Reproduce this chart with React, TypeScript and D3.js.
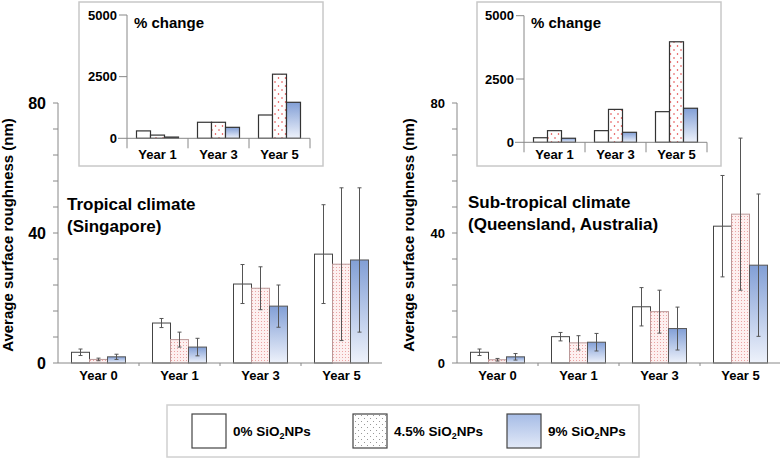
import React from "react";
import * as d3 from "d3";

const years = ["Year 0", "Year 1", "Year 3", "Year 5"];
const insetYears = ["Year 1", "Year 3", "Year 5"];
const seriesKeys = ["0%", "4.5%", "9%"];

// Tropical climate (Singapore): mean roughness (nm) and error
const tropical0 = [3.3, 12.3, 24.3, 33.5];
const tropical45 = [1.1, 7.2, 23.0, 30.4];
const tropical9 = [1.9, 4.9, 17.5, 31.7];
const tropicalErr0 = [1.0, 1.4, 6.0, 15.2];
const tropicalErr45 = [0.4, 2.3, 6.6, 23.5];
const tropicalErr9 = [0.8, 2.7, 6.5, 22.2];

// Sub-tropical climate (Queensland)
const subtrop0 = [3.3, 8.1, 17.3, 42.1];
const subtrop45 = [1.0, 6.2, 15.8, 45.8];
const subtrop9 = [1.9, 6.4, 10.6, 30.1];
const subtropErr0 = [1.0, 1.3, 5.9, 15.6];
const subtropErr45 = [0.4, 2.2, 6.6, 23.4];
const subtropErr9 = [1.0, 2.7, 6.6, 21.9];

// % change insets
const tropicalChange0 = [300, 650, 945];
const tropicalChange45 = [130, 650, 2600];
const tropicalChange9 = [50, 445, 1460];
const subtropChange0 = [180, 460, 1210];
const subtropChange45 = [460, 1300, 3970];
const subtropChange9 = [160, 395, 1345];

const font = "'Liberation Sans', Arial, Helvetica, sans-serif";
const axisColor = "#888";
const mainFills = ["#ffffff", "url(#pinkDots)", "url(#blueGrad)"];
const mainStrokes = ["#444", "#b99", "#555"];
const insetFills = ["#ffffff", "url(#redDots)", "url(#blueGrad)"];

function MainPanel({ left, right, means, errs, tickSize, title, titleX, titleY, axisTitleX }) {
  const x = d3.scaleBand().domain(years).range([left, right]);
  const inner = d3.scaleBand().domain(seriesKeys).range([0, 54]);
  const y = d3.scaleLinear().domain([0, 80]).range([363, 103]);
  const pad = (x.bandwidth() - 54) / 2;

  return (
    <g>
      {/* y axis */}
      <line x1={left} x2={left} y1={y(80)} y2={y(0)} stroke={axisColor} />
      {d3.range(0, 81, 8).map((t) => (
        <line key={t} x1={left - 5} x2={left} y1={y(t)} y2={y(t)} stroke={axisColor} />
      ))}
      {[0, 40, 80].map((t) => (
        <text key={t} x={left - 12} y={y(t)} textAnchor="end" dominantBaseline="central"
          fontSize={tickSize} fontWeight="bold">{t}</text>
      ))}
      <text transform={`translate(${axisTitleX},235) rotate(-90)`} textAnchor="middle"
        fontSize={15} fontWeight="bold">Average surface roughness (nm)</text>

      {/* bars */}
      {years.map((yr, i) =>
        seriesKeys.map((s, j) => {
          const bx = x(yr)! + pad + inner(s)!;
          const m = means[j][i];
          return (
            <rect key={yr + s} x={bx} y={y(m)} width={inner.bandwidth()} height={y(0) - y(m)}
              fill={mainFills[j]} stroke={mainStrokes[j]} strokeWidth={1} />
          );
        })
      )}
      {/* error bars */}
      {years.map((yr, i) =>
        seriesKeys.map((s, j) => {
          const cx = x(yr)! + pad + inner(s)! + inner.bandwidth() / 2;
          const m = means[j][i];
          const e = errs[j][i];
          const y1 = y(m + e);
          const y2 = y(Math.max(0, m - e));
          return (
            <g key={"e" + yr + s} stroke="#555" strokeWidth={1}>
              <line x1={cx} x2={cx} y1={y1} y2={y2} />
              <line x1={cx - 2} x2={cx + 2} y1={y1} y2={y1} />
              <line x1={cx - 2} x2={cx + 2} y1={y2} y2={y2} />
            </g>
          );
        })
      )}

      {/* x axis */}
      <line x1={left} x2={right} y1={y(0)} y2={y(0)} stroke={axisColor} />
      {years.slice(1).map((yr) => (
        <line key={yr} x1={x(yr)} x2={x(yr)} y1={y(0)} y2={y(0) + 3} stroke={axisColor} />
      ))}
      {years.map((yr) => (
        <text key={yr} x={x(yr)! + x.bandwidth() / 2} y={380} textAnchor="middle"
          fontSize={13} fontWeight="bold">{yr}</text>
      ))}

      {title.map((t, k) => (
        <text key={t} x={titleX} y={titleY + k * 21.5} fontSize={17} fontWeight="bold">{t}</text>
      ))}
    </g>
  );
}

function Inset({ boxX, axisX, axisEnd, zeroY, topY, changes }) {
  const x = d3.scaleBand().domain(insetYears).range([axisX, axisEnd]);
  const inner = d3.scaleBand().domain(seriesKeys).range([0, 42]);
  const y = d3.scaleLinear().domain([0, 5000]).range([zeroY, topY]);
  const pad = (x.bandwidth() - 42) / 2;

  return (
    <g>
      <rect x={boxX} y={2} width={244} height={164} fill="#fff" stroke="#c8c8c8" strokeWidth={1.5} />
      {insetYears.map((yr, i) =>
        seriesKeys.map((s, j) => {
          const v = changes[j][i];
          return (
            <rect key={yr + s} x={x(yr)! + pad + inner(s)!} y={y(v)} width={inner.bandwidth()}
              height={y(0) - y(v)} fill={insetFills[j]} stroke="#333" strokeWidth={1.2} />
          );
        })
      )}
      <line x1={axisX} x2={axisX} y1={y(5000)} y2={zeroY + 10} stroke={axisColor} />
      <line x1={axisX - 9} x2={axisEnd} y1={zeroY} y2={zeroY} stroke={axisColor} />
      {[2500, 5000].map((t) => (
        <line key={t} x1={axisX - 8} x2={axisX} y1={y(t)} y2={y(t)} stroke={axisColor} />
      ))}
      {[0, 2500, 5000].map((t) => (
        <text key={t} x={axisX - 10} y={y(t)} textAnchor="end" dominantBaseline="central"
          fontSize={13} fontWeight="bold">{t}</text>
      ))}
      {insetYears.map((yr) => (
        <line key={yr} x1={x(yr)! + x.bandwidth()} x2={x(yr)! + x.bandwidth()} y1={zeroY}
          y2={zeroY + 10} stroke={axisColor} />
      ))}
      {insetYears.map((yr) => (
        <text key={"l" + yr} x={x(yr)! + x.bandwidth() / 2} y={159} textAnchor="middle"
          fontSize={13} fontWeight="bold">{yr}</text>
      ))}
      <text x={axisX + 7} y={28} fontSize={15} fontWeight="bold">% change</text>
    </g>
  );
}

function LegendLabel({ x, pct }) {
  return (
    <text x={x} y={436} fontSize={13.5} fontWeight="bold">
      <tspan>{pct} SiO</tspan>
      <tspan fontSize={9} dy={3}>2</tspan>
      <tspan dy={-3}>NPs</tspan>
    </text>
  );
}

export default function App() {
  const legendX = [192, 353, 507];
  const legendFills = ["#ffffff", "url(#grayDots)", "url(#legendBlue)"];
  return (
    <svg width={780} height={458} style={{ position: "absolute", left: 0, top: 0, background: "#fff" }}
      fontFamily={font}>
      <defs>
        <pattern id="pinkDots" patternUnits="userSpaceOnUse" width={3} height={3}>
          <rect width={3} height={3} fill="#fdf0f0" />
          <rect width={1} height={1} fill="#eaa4a4" />
        </pattern>
        <pattern id="redDots" patternUnits="userSpaceOnUse" width={7} height={8}>
          <rect width={7} height={8} fill="#fff" />
          <circle cx={2} cy={2} r={0.75} fill="#e02828" />
          <circle cx={5.5} cy={6} r={0.75} fill="#e02828" />
        </pattern>
        <pattern id="grayDots" patternUnits="userSpaceOnUse" width={6} height={6}>
          <rect width={6} height={6} fill="#fff" />
          <circle cx={1.5} cy={1.5} r={0.5} fill="#777" />
          <circle cx={4.5} cy={4.5} r={0.5} fill="#777" />
        </pattern>
        <linearGradient id="blueGrad" x1="0" y1="0" x2="0" y2="1">
          <stop offset="0" stopColor="#829fd6" />
          <stop offset="1" stopColor="#eef2fb" />
        </linearGradient>
        <linearGradient id="legendBlue" x1="0" y1="0" x2="0" y2="1">
          <stop offset="0" stopColor="#a6bce6" />
          <stop offset="1" stopColor="#e2e9f7" />
        </linearGradient>
      </defs>

      <MainPanel left={58} right={382} means={[tropical0, tropical45, tropical9]}
        errs={[tropicalErr0, tropicalErr45, tropicalErr9]} tickSize={16}
        title={["Tropical climate", "(Singapore)"]} titleX={67} titleY={210} axisTitleX={13} />
      <MainPanel left={457} right={781} means={[subtrop0, subtrop45, subtrop9]}
        errs={[subtropErr0, subtropErr45, subtropErr9]} tickSize={13}
        title={["Sub-tropical climate", "(Queensland, Australia)"]} titleX={468} titleY={208}
        axisTitleX={414} />

      <Inset boxX={79} axisX={127} axisEnd={310} zeroY={138.3} topY={15}
        changes={[tropicalChange0, tropicalChange45, tropicalChange9]} />
      <Inset boxX={477} axisX={524} axisEnd={707} zeroY={142.3} topY={15.7}
        changes={[subtropChange0, subtropChange45, subtropChange9]} />

      {/* legend */}
      <rect x={167} y={405} width={472} height={52} fill="#fff" stroke="#d0d0d0" strokeWidth={1.5} />
      {seriesKeys.map((s, j) => (
        <g key={s}>
          <rect x={legendX[j]} y={414} width={34} height={34} fill={legendFills[j]} stroke="#444" strokeWidth={1.2} />
          <LegendLabel x={legendX[j] + 41} pct={s} />
        </g>
      ))}
    </svg>
  );
}
